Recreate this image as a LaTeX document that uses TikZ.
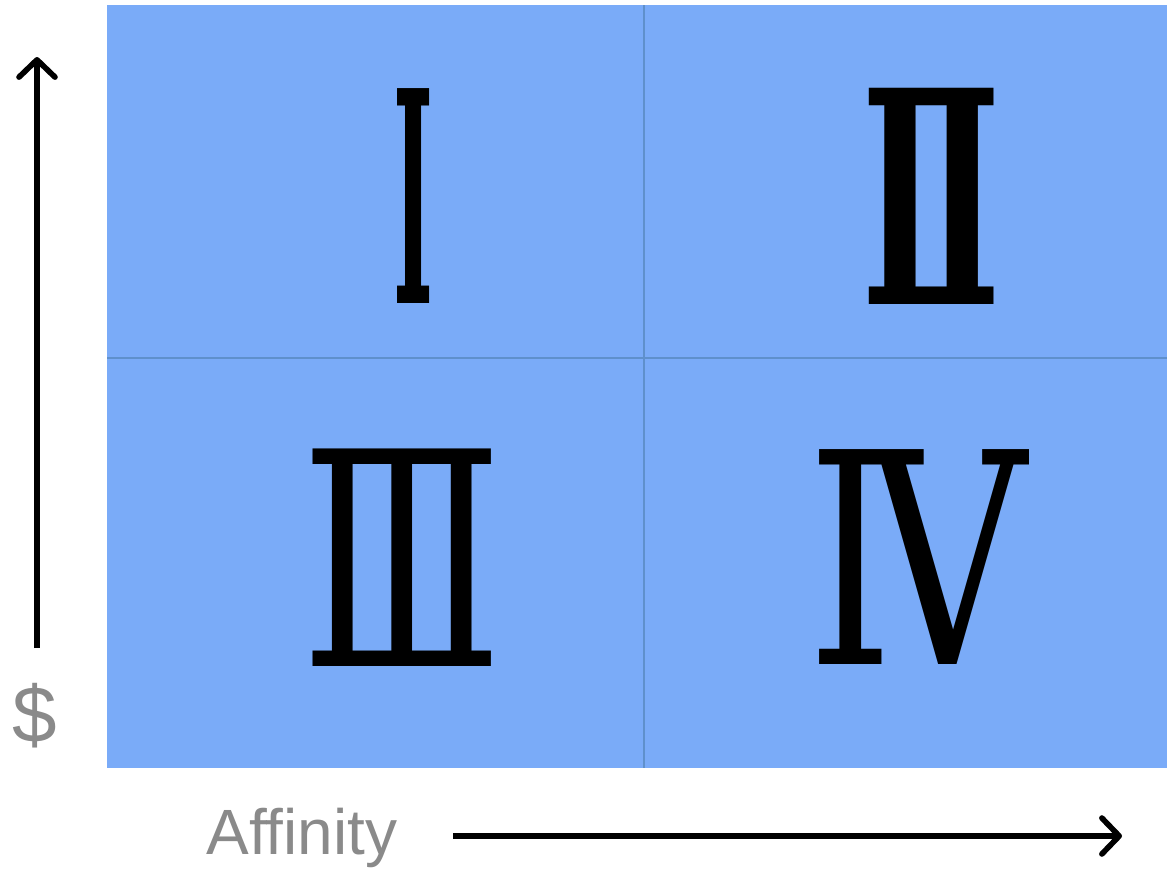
\documentclass[tikz,border=0pt]{standalone}
\usepackage{fontspec}
\setmainfont{Liberation Sans}
\newfontfamily\numfont{DejaVu Serif}
\usetikzlibrary{arrows.meta}
\definecolor{quadc}{HTML}{7AABF8}
\definecolor{gridc}{HTML}{5F90CC}
\definecolor{labc}{HTML}{8A8A8A}
\tikzset{
  ax/.style={-{Straight Barb[length=13pt,width=27pt,line cap=round,round]},line width=4.2pt},
  num/.style={inner sep=0pt,font=\numfont},
  lab/.style={inner sep=0pt,text=labc,font=\fontsize{48}{58}\selectfont}
}
\begin{document}
\begin{tikzpicture}[x=0.75pt,y=-0.75pt]
\useasboundingbox (0,0) rectangle (1167,871);
\fill[quadc] (107,5) rectangle (1167,768);
\draw[gridc,line width=2.2pt] (644,5)--(644,768) (107,358)--(1167,358);
% quadrants
\node[num,font=\numfont\bfseries] (q1) at (413,196) {\resizebox{30pt}{161pt}{Ⅰ}};
\node[num,font=\numfont\bfseries] (q2) at (932,196) {\resizebox{105pt}{162pt}{Ⅱ}};
\node[num] (q3) at (402,558) {\resizebox{151pt}{163pt}{Ⅲ}};
\node[num] (q4) at (917,557) {\resizebox{164pt}{161pt}{Ⅳ}};
% axes
\node[lab,font=\fontsize{60}{70}\selectfont] (money) at (35,716) {\$};
\node[lab] (aff) at (302,838) {Affinity};
\coordinate (ybot) at (37,648);
\coordinate (ytop) at (37,57);
\coordinate (xl) at (453,836);
\coordinate (xr) at (1122,836);
\draw[ax] (ybot)--(ytop);
\draw[ax] (xl)--(xr);
\end{tikzpicture}
\end{document}
